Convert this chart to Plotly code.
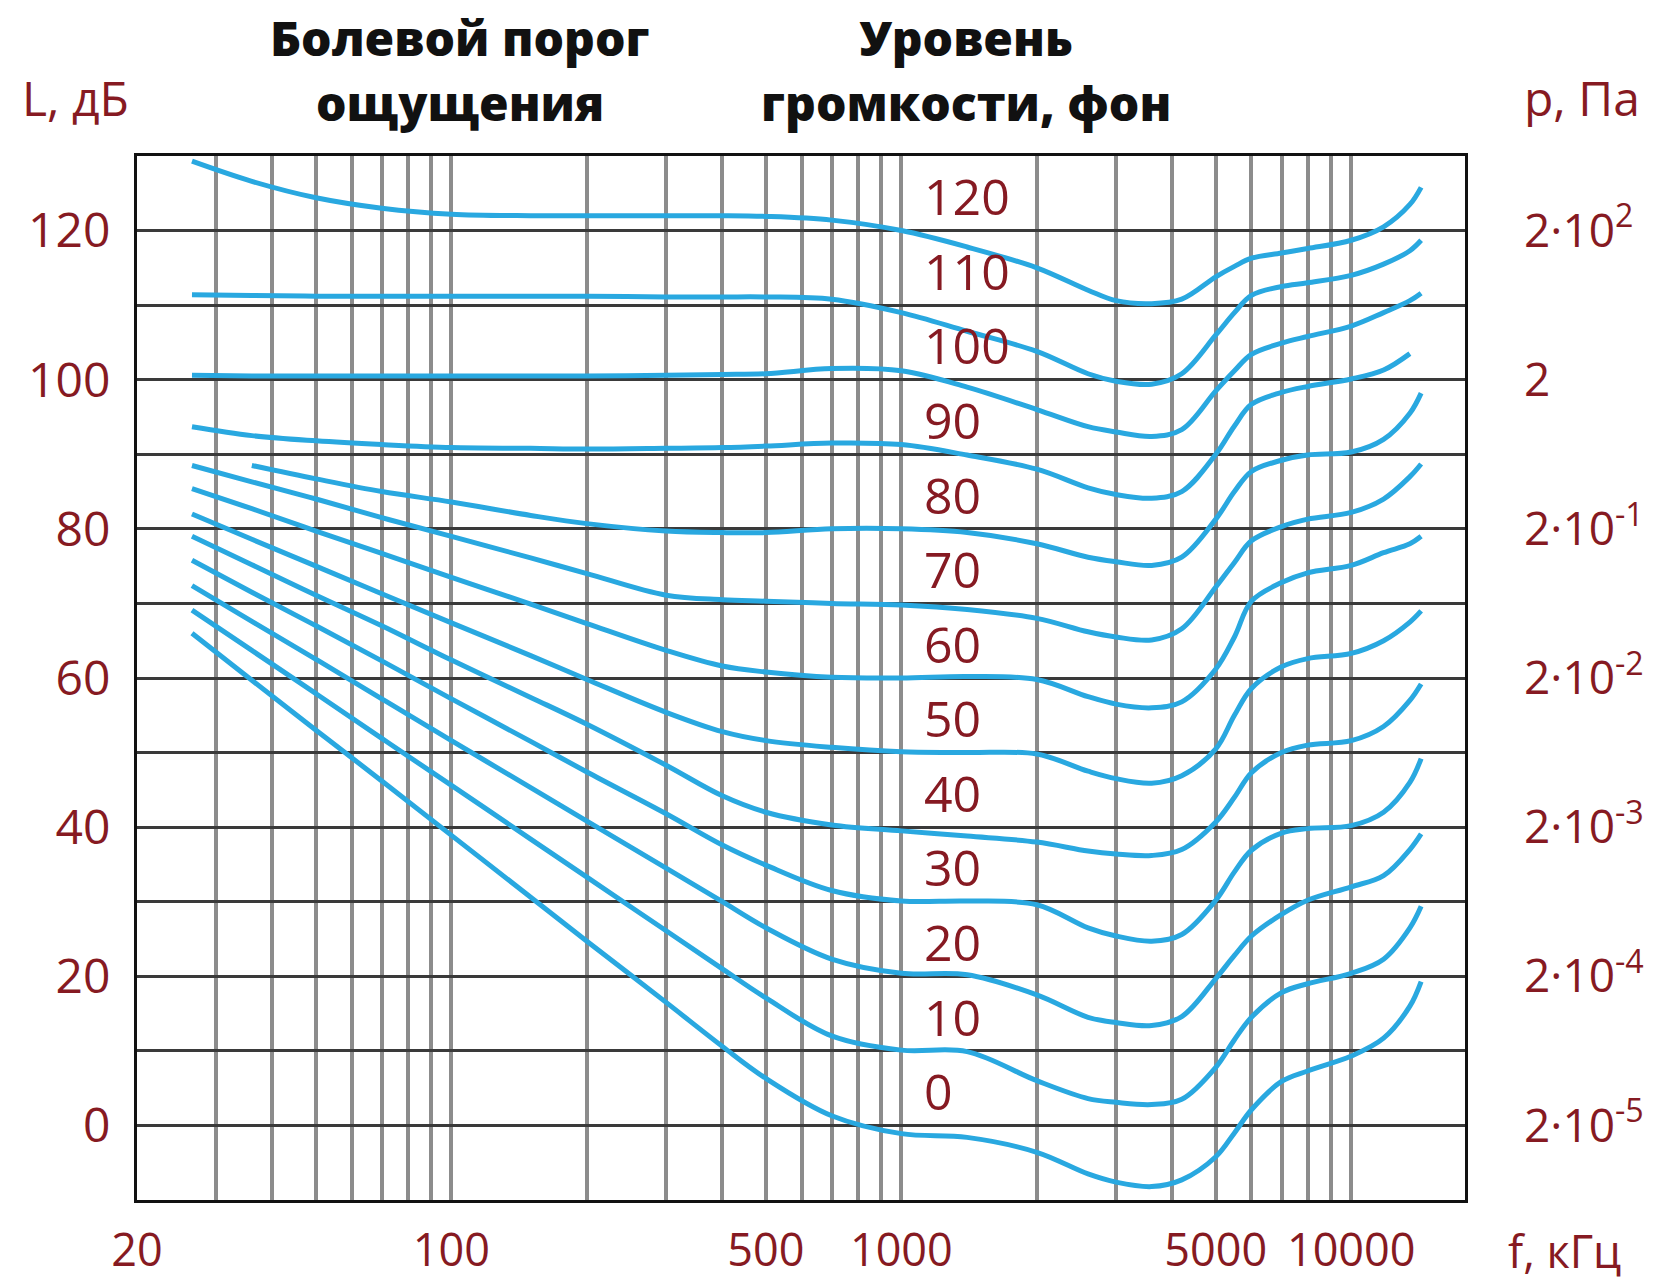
import math
import plotly.graph_objects as go

# ---------------- data ----------------
FREQ = [26.5, 36, 50, 70, 100, 150, 200, 300, 400, 500, 700, 1000, 1400, 2000,
        2600, 3000, 3600, 4200, 5000, 5500, 6000, 7000, 8000, 10000, 11800, 13500, 14300]

L120 = [129.3, 126.6, 124.4, 123.0, 122.2, 122.0, 122.0, 122.0, 122.0, 121.9, 121.4, 120.0, 117.8, 115.0,
        112.0, 110.6, 110.2, 110.8, 113.8, 115.2, 116.3, 117.0, 117.6, 118.7, 120.5, 123.5, 125.8]
L110 = [111.4, 111.3, 111.2, 111.2, 111.2, 111.2, 111.2, 111.1, 111.1, 111.1, 110.8, 109.0, 106.5, 103.8,
        100.8, 99.8, 99.4, 100.8, 106.0, 109.0, 111.3, 112.5, 113.0, 114.0, 115.5, 117.3, 118.7]
L100 = [100.6, 100.5, 100.5, 100.5, 100.5, 100.5, 100.5, 100.6, 100.7, 100.8, 101.5, 101.2, 99.0, 96.0,
        93.7, 93.0, 92.4, 93.3, 98.5, 101.2, 103.4, 104.9, 105.8, 107.2, 109.0, 110.6, 111.6]
L90 = [93.7, 92.5, 91.8, 91.3, 90.9, 90.8, 90.7, 90.8, 90.9, 91.1, 91.5, 91.3, 89.9, 88.0,
       85.5, 84.6, 84.1, 85.0, 90.0, 93.8, 96.7, 98.3, 99.1, 100.1, 101.3, 103.5, None]
L80 = [None, 88.5, 86.7, 85.0, 83.6, 81.8, 80.7, 79.7, 79.5, 79.5, 80.0, 80.0, 79.5, 78.0,
       76.2, 75.6, 75.1, 76.2, 81.3, 85.0, 87.7, 89.2, 89.9, 90.3, 92.0, 95.5, 98.2]
L70 = [88.5, 86.3, 84.0, 81.5, 79.0, 76.1, 74.0, 71.1, 70.5, 70.3, 70.0, 69.8, 69.2, 68.0,
       66.2, 65.5, 65.1, 66.6, 72.2, 75.5, 78.4, 80.3, 81.3, 82.2, 84.0, 87.0, 88.7]
L60 = [85.4, 82.7, 79.7, 76.7, 73.5, 69.9, 67.3, 63.7, 61.6, 60.8, 60.1, 60.0, 60.2, 59.8,
       57.5, 56.5, 56.0, 56.8, 61.2, 65.5, 70.3, 72.8, 74.1, 75.1, 76.8, 78.0, 79.0]
L50 = [82.0, 78.6, 75.0, 71.3, 67.4, 63.0, 59.8, 55.4, 52.8, 51.6, 50.7, 50.1, 50.0, 49.8,
       47.5, 46.5, 45.9, 46.9, 50.5, 55.0, 58.6, 61.5, 62.6, 63.3, 65.0, 67.5, 69.0]
L40 = [79.0, 75.2, 71.1, 67.0, 62.4, 57.4, 53.8, 48.3, 44.2, 42.0, 40.3, 39.5, 38.8, 38.0,
       36.8, 36.4, 36.2, 37.0, 40.7, 44.0, 47.3, 50.0, 51.0, 51.6, 53.5, 57.0, 59.2]
L30 = [75.8, 71.5, 67.0, 62.3, 57.2, 51.5, 47.4, 41.8, 37.6, 34.9, 31.5, 30.1, 30.1, 29.6,
       26.5, 25.4, 24.7, 25.6, 30.2, 34.0, 36.9, 39.2, 39.8, 40.2, 42.0, 46.0, 49.2]
L20 = [72.4, 67.6, 62.5, 57.2, 51.6, 45.3, 40.8, 34.5, 30.0, 26.5, 22.3, 20.4, 20.2, 17.5,
       14.5, 13.8, 13.4, 14.6, 19.7, 22.8, 25.4, 28.3, 30.2, 32.0, 33.5, 37.0, 39.1]
L10 = [69.1, 63.7, 57.9, 51.9, 45.6, 38.4, 33.3, 26.1, 21.0, 17.1, 12.0, 10.1, 9.9, 6.0,
       3.6, 3.1, 2.8, 3.5, 7.8, 11.5, 14.5, 17.8, 19.0, 20.4, 22.3, 26.5, 29.4]
L0 = [66.0, 59.7, 53.0, 46.2, 38.9, 30.6, 24.7, 16.5, 10.6, 6.3, 1.3, -1.1, -1.6, -3.6,
      -6.5, -7.6, -8.2, -7.3, -4.2, -1.0, 2.1, 5.9, 7.3, 9.3, 11.7, 16.0, 19.3]

LEVELS = [120, 110, 100, 90, 80, 70, 60, 50, 40, 30, 20, 10, 0]
CURVES = [L120, L110, L100, L90, L80, L70, L60, L50, L40, L30, L20, L10, L0]

X_GRID = [20, 30, 40, 50, 60, 70, 80, 90, 100, 200, 300, 400, 500, 600, 700, 800, 900,
          1000, 2000, 3000, 4000, 5000, 6000, 7000, 8000, 9000, 10000]
X_LABELED = [20, 100, 500, 1000, 5000, 10000]
Y_GRID = list(range(0, 121, 10))
Y_LABELED = [0, 20, 40, 60, 80, 100, 120]
P_LABELS = ["2·10<sup>-5</sup>", "2·10<sup>-4</sup>", "2·10<sup>-3</sup>", "2·10<sup>-2</sup>",
            "2·10<sup>-1</sup>", "2", "2·10<sup>2</sup>"]

# ---------------- style ----------------
BLUE = "#29A8E0"
RED = "#861A22"
FONT = "Open Sans, Noto Sans, sans-serif"
W, H = 1665, 1283
L_M, R_M, T_M, B_M = 137, 200, 156, 83
PW, PH = W - L_M - R_M, H - T_M - B_M


def px(x):
    return (x - L_M) / PW


def py(y):
    return (H - B_M - y) / PH


fig = go.Figure()
for lev, ys in zip(LEVELS, CURVES):
    fig.add_trace(go.Scatter(x=FREQ, y=ys, mode="lines", name=str(lev),
                             line=dict(color=BLUE, width=5, shape="spline", smoothing=1.0),
                             connectgaps=False, hoverinfo="skip"))
# invisible trace for right axis
fig.add_trace(go.Scatter(x=[100], y=[0], yaxis="y2", mode="markers",
                         marker=dict(opacity=0), hoverinfo="skip", showlegend=False))

fig.update_layout(
    width=W, height=H,
    margin=dict(l=L_M, r=R_M, t=T_M, b=B_M, autoexpand=False),
    paper_bgcolor="white", plot_bgcolor="white",
    showlegend=False,
    font=dict(family=FONT, color=RED),
    xaxis=dict(type="log", range=[math.log10(20), math.log10(17900)],
               tickmode="array", tickvals=X_GRID,
               ticktext=[str(v) if v in X_LABELED else "" for v in X_GRID],
               showgrid=True, gridcolor="#8c8c8c", gridwidth=4,
               showline=True, linecolor="#111", linewidth=3, mirror=True,
               ticks="", zeroline=False, ticklabelstandoff=9, automargin=False,
               tickfont=dict(size=45, color=RED, family=FONT)),
    yaxis=dict(range=[-10, 130], tickmode="array", tickvals=Y_GRID,
               ticktext=[str(v) if v in Y_LABELED else "" for v in Y_GRID],
               showgrid=True, gridcolor="#3a3a3a", gridwidth=2.5,
               showline=True, linecolor="#111", linewidth=3, mirror=True,
               ticks="", zeroline=False, ticklabelstandoff=14, automargin=False,
               tickfont=dict(size=48, color=RED, family=FONT)),
    yaxis2=dict(range=[-10, 130], overlaying="y", side="right", tickmode="array",
                tickvals=Y_LABELED, ticktext=P_LABELS, showgrid=False, showline=False,
                zeroline=False, ticks="", ticklabelstandoff=58, automargin=False,
                tickfont=dict(size=46, color=RED, family=FONT)),
)

ann = []
for lev in LEVELS:
    ann.append(dict(x=math.log10(1110), y=lev + 4.6, xref="x", yref="y", text=str(lev),
                    showarrow=False, xanchor="left", yanchor="middle",
                    font=dict(size=50, color=RED, family=FONT)))

TITLE_FONT = dict(size=48, color="#111", family=FONT, weight=800)
for text, cx, cy in [("Болевой порог", 460, 37), ("ощущения", 460, 103),
                     ("Уровень", 966, 37), ("громкости, фон", 966, 103)]:
    ann.append(dict(x=px(cx), y=py(cy), xref="paper", yref="paper", text=text,
                    showarrow=False, xanchor="center", yanchor="middle", font=TITLE_FONT))

for text, cx, cy, sz in [("L, дБ", 75, 98, 48), ("p, Па", 1582, 98, 48), ("f, кГц", 1564, 1250, 45)]:
    ann.append(dict(x=px(cx), y=py(cy), xref="paper", yref="paper", text=text,
                    showarrow=False, xanchor="center", yanchor="middle",
                    font=dict(size=sz, color=RED, family=FONT)))

fig.update_layout(annotations=ann)

fig.write_html("out.html", config={"displayModeBar": False},
               post_script="document.body.style.margin='0';document.body.style.overflow='hidden';")
